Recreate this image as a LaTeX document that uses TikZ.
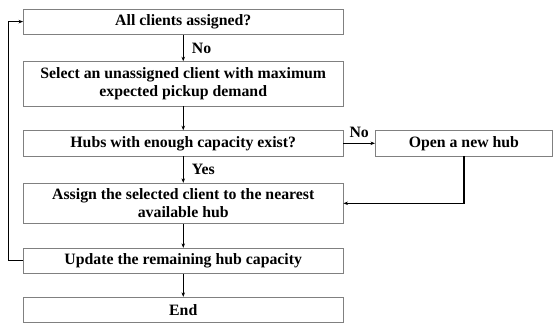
\documentclass[tikz,border=0pt]{standalone}
\usepackage{fontspec}
\setmainfont{Liberation Serif}
\usetikzlibrary{arrows.meta}
\begin{document}
\begin{tikzpicture}[x=1pt,y=-1pt,
  stepbox/.style={draw=black!50, line width=0.9pt, fill=white, inner sep=0pt,
    minimum width=319.5pt, align=center, font=\bfseries\fontsize{15.8}{17.5}\selectfont},
  conn/.style={draw=black, line width=1.2pt, -{Stealth[length=4.5pt,width=3.5pt]}},
  lbl/.style={font=\bfseries\fontsize{15.8}{17.5}\selectfont, inner sep=0pt}]
\useasboundingbox (0,0) rectangle (553,325);
\node[stepbox, minimum height=25.3pt] (all) at (183.25,21.6) {All clients assigned?};
\node[stepbox, minimum height=44.3pt] (sel) at (183.25,83.8) {Select an unassigned client with maximum\\expected pickup demand};
\node[stepbox, minimum height=25.3pt] (hubs) at (183.25,143.3) {Hubs with enough capacity exist?};
\node[stepbox, minimum height=25.3pt, minimum width=177pt] (open) at (463.9,143.3) {Open a new hub};
\node[stepbox, minimum height=40pt] (asg) at (183.25,203.3) {Assign the selected client to the nearest\\available hub};
\node[stepbox, minimum height=25pt] (upd) at (183.25,260.8) {Update the remaining hub capacity};
\node[stepbox, minimum height=25.4pt] (end) at (183.25,310) {End};
\coordinate (loop) at (8.3,0);
\draw[conn] (all) -- node[lbl, right=8pt] {No} (sel);
\draw[conn] (sel) -- (hubs);
\draw[conn] (hubs) -- node[lbl, above=5pt] {No} (open);
\draw[conn] (hubs) -- node[lbl, right=8pt] {Yes} (asg);
\draw[conn] (open.south) |- (asg.east);
\draw[conn] (asg) -- (upd);
\draw[conn] (upd) -- (end);
\draw[conn] (upd.west) -| (loop |- upd.west) |- (all.west);
\end{tikzpicture}
\end{document}
